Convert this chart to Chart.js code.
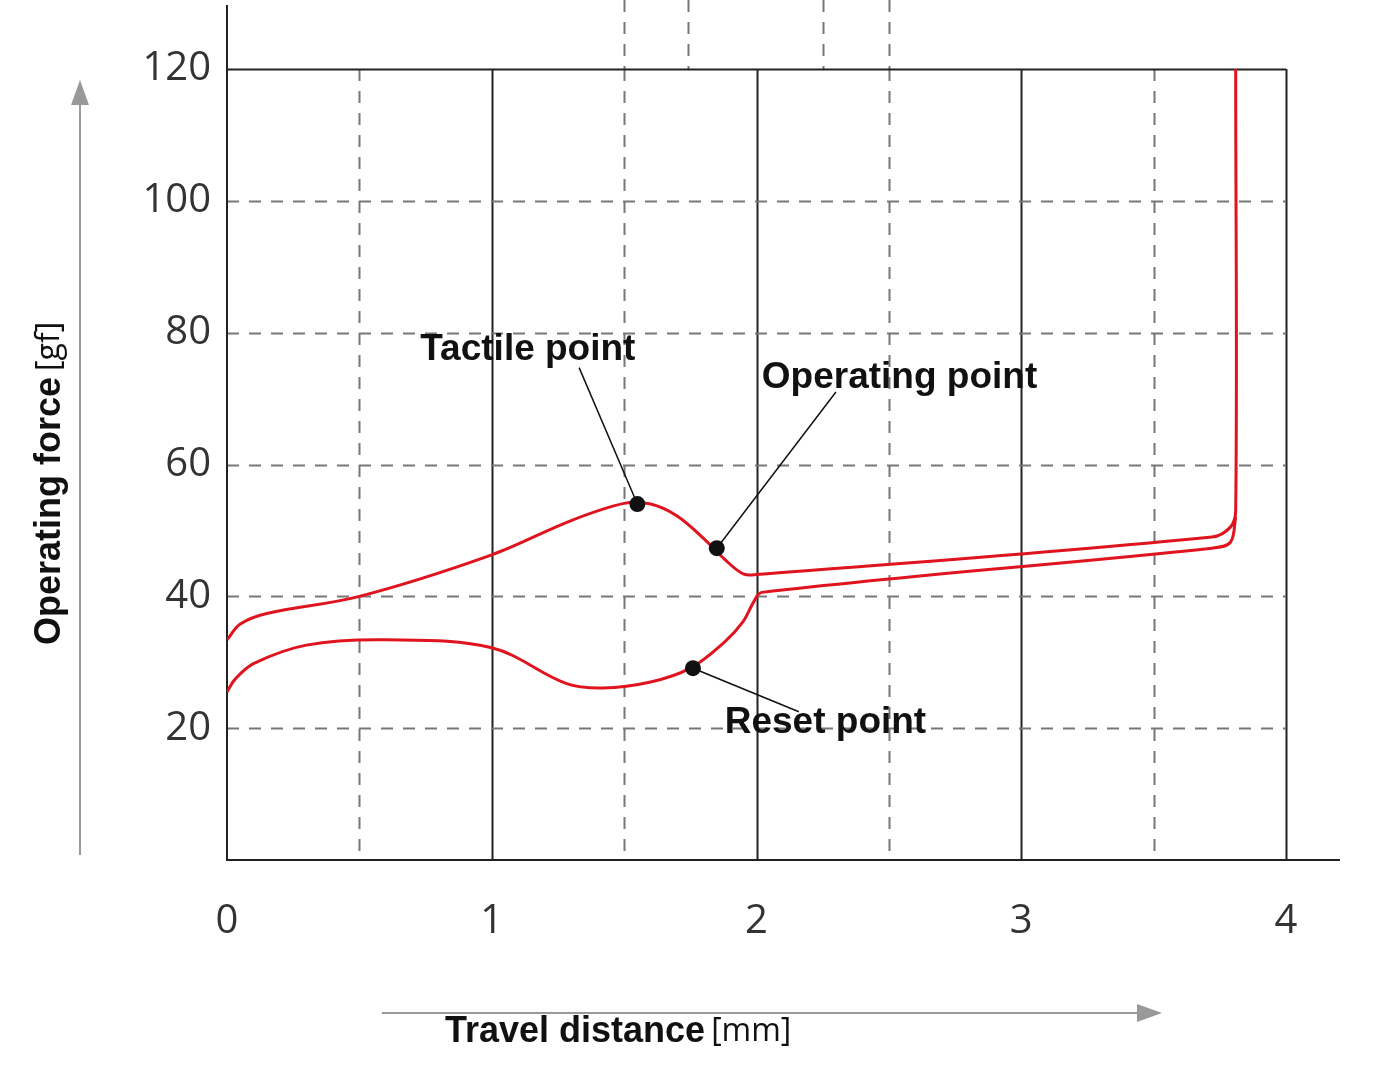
<!DOCTYPE html>
<html>
<head>
<meta charset="utf-8">
<script src="https://cdn.jsdelivr.net/npm/chart.js@4"></script>
<style>
  body { margin: 0; background: #fff; }
  #wrap { width: 1388px; height: 1076px; }
</style>
</head>
<body>
<div id="wrap"><canvas id="chart"></canvas></div>
<script>
// press stroke (upper curve), mm / gf
const pressX = [0, 0.05, 0.15, 0.5, 1.0, 1.3, 1.5, 1.6, 1.7, 1.8, 1.88, 1.95, 2.0, 3.72, 3.79, 3.81, 3.81];
const pressY = [33.4, 35.8, 37.4, 40, 46.3, 51.5, 54.1, 54, 52.2, 48.8, 45.6, 43.4, 43.3, 49, 50.5, 53, 120];
// return stroke (lower curve)
const returnX = [3.81, 3.79, 3.72, 2.02, 1.99, 1.95, 1.88, 1.75, 1.6, 1.42, 1.28, 1.0, 0.6, 0.3, 0.1, 0.03, 0];
const returnY = [52, 48.2, 47.3, 40.6, 39.2, 36.2, 33.1, 29.1, 27, 26.1, 26.8, 32.2, 33.4, 32.6, 29.8, 27.4, 25.5];
// marked points
const pointNames = ['Tactile point', 'Operating point', 'Reset point'];
const pointX = [1.55, 1.85, 1.76];
const pointY = [54, 47.3, 29.1];
const labelX = [0.73, 2.02, 1.88];
const labelY = [77.4, 73.1, 20.8];
const leaderX = [1.33, 2.3, 2.16];
const leaderY = [74.7, 71.0, 22.5];
const xTicks = [0, 1, 2, 3, 4];
const yTicks = [20, 40, 60, 80, 100, 120];

const toPts = (xs, ys) => xs.map((x, i) => ({ x, y: ys[i] }));

const decor = {
  id: 'decor',
  beforeDatasetsDraw(chart) {
    const { ctx, scales: { x, y }, chartArea: a } = chart;
    ctx.save();
    ctx.lineWidth = 2;
    for (let v = 0.5; v <= 4; v += 0.5) {
      const px = Math.round(x.getPixelForValue(v)) + 0.5;
      const solid = Number.isInteger(v);
      ctx.strokeStyle = solid ? '#222' : '#777';
      ctx.setLineDash(solid ? [] : [12, 10]);
      ctx.beginPath(); ctx.moveTo(px, a.top); ctx.lineTo(px, a.bottom); ctx.stroke();
    }
    ctx.strokeStyle = '#777'; ctx.setLineDash([12, 10]);
    [1.5, 1.74, 2.25, 2.5].forEach(v => {
      const px = Math.round(x.getPixelForValue(v)) + 0.5;
      ctx.beginPath(); ctx.moveTo(px, 0); ctx.lineTo(px, a.top); ctx.stroke();
    });
    for (let v = 20; v < 120; v += 20) {
      const py = Math.round(y.getPixelForValue(v)) + 0.5;
      ctx.beginPath(); ctx.moveTo(a.left, py); ctx.lineTo(a.right, py); ctx.stroke();
    }
    ctx.setLineDash([]);
    ctx.strokeStyle = '#222';
    const top = Math.round(y.getPixelForValue(120)) + 0.5;
    ctx.beginPath(); ctx.moveTo(a.left, top); ctx.lineTo(a.right, top); ctx.stroke();
    ctx.beginPath(); ctx.moveTo(a.left, 5); ctx.lineTo(a.left, a.bottom); ctx.lineTo(1340, a.bottom); ctx.stroke();
    ctx.restore();
  },
  afterDatasetsDraw(chart) {
    const { ctx, scales: { x, y } } = chart;
    ctx.save();
    ctx.strokeStyle = '#111'; ctx.lineWidth = 1.5;
    pointX.forEach((v, i) => {
      const px = x.getPixelForValue(v), py = y.getPixelForValue(pointY[i]);
      ctx.beginPath();
      ctx.moveTo(x.getPixelForValue(leaderX[i]), y.getPixelForValue(leaderY[i]));
      ctx.lineTo(px, py); ctx.stroke();
      ctx.fillStyle = '#111';
      ctx.beginPath(); ctx.arc(px, py, 8, 0, Math.PI * 2); ctx.fill();
    });
    ctx.font = 'bold 37px "Liberation Sans", Arial, sans-serif';
    ctx.textBaseline = 'middle'; ctx.textAlign = 'left';
    pointNames.forEach((t, i) => ctx.fillText(t, x.getPixelForValue(labelX[i]), y.getPixelForValue(labelY[i])));
    // arrows
    ctx.strokeStyle = '#999'; ctx.fillStyle = '#999'; ctx.lineWidth = 2;
    ctx.beginPath(); ctx.moveTo(80, 855); ctx.lineTo(80, 100); ctx.stroke();
    ctx.beginPath(); ctx.moveTo(80, 80); ctx.lineTo(71, 105); ctx.lineTo(89, 105); ctx.fill();
    ctx.beginPath(); ctx.moveTo(382, 1013); ctx.lineTo(1140, 1013); ctx.stroke();
    ctx.beginPath(); ctx.moveTo(1162, 1013); ctx.lineTo(1137, 1004); ctx.lineTo(1137, 1022); ctx.fill();
    // axis titles
    const bold = 'bold 36px "Liberation Sans", Arial, sans-serif';
    const thin = '32px "Open Sans", sans-serif';
    ctx.fillStyle = '#111';
    ctx.font = bold;
    ctx.fillText('Travel distance', 445, 1032);
    let w = ctx.measureText('Travel distance').width;
    ctx.font = thin;
    ctx.fillText('[mm]', 445 + w + 6, 1032);
    ctx.translate(50, 645); ctx.rotate(-Math.PI / 2);
    ctx.font = bold;
    ctx.fillText('Operating force', 0, 0);
    w = ctx.measureText('Operating force').width;
    ctx.font = thin;
    ctx.fillText('[gf]', w + 6, 0);
    ctx.restore();
  }
};

new Chart(document.getElementById('chart'), {
  type: 'scatter',
  data: {
    datasets: [
      { label: 'Press', data: toPts(pressX, pressY) },
      { label: 'Return', data: toPts(returnX, returnY) }
    ].map(d => Object.assign(d, {
      showLine: true, borderColor: '#e0141e', borderWidth: 3,
      pointRadius: 0, tension: 0.35, fill: false
    }))
  },
  options: {
    responsive: true, maintainAspectRatio: false, animation: false,
    layout: { padding: { top: 69, right: 102, left: 0, bottom: 0 } },
    plugins: { legend: { display: false }, tooltip: { enabled: false } },
    scales: {
      x: {
        type: 'linear', min: 0, max: 4,
        afterFit: s => { s.height = 216; },
        afterBuildTicks: s => { s.ticks = xTicks.map(v => ({ value: v })); },
        grid: { display: false }, border: { display: false },
        ticks: { color: '#333', padding: 30, font: { family: 'Open Sans', size: 40 } }
      },
      y: {
        min: 0, max: 120,
        afterFit: s => { s.width = 227; },
        afterBuildTicks: s => { s.ticks = yTicks.map(v => ({ value: v })); },
        grid: { display: false }, border: { display: false },
        ticks: { color: '#333', padding: 8, font: { family: 'Open Sans', size: 40 } }
      }
    }
  },
  plugins: [decor]
});
</script>
</body>
</html>
